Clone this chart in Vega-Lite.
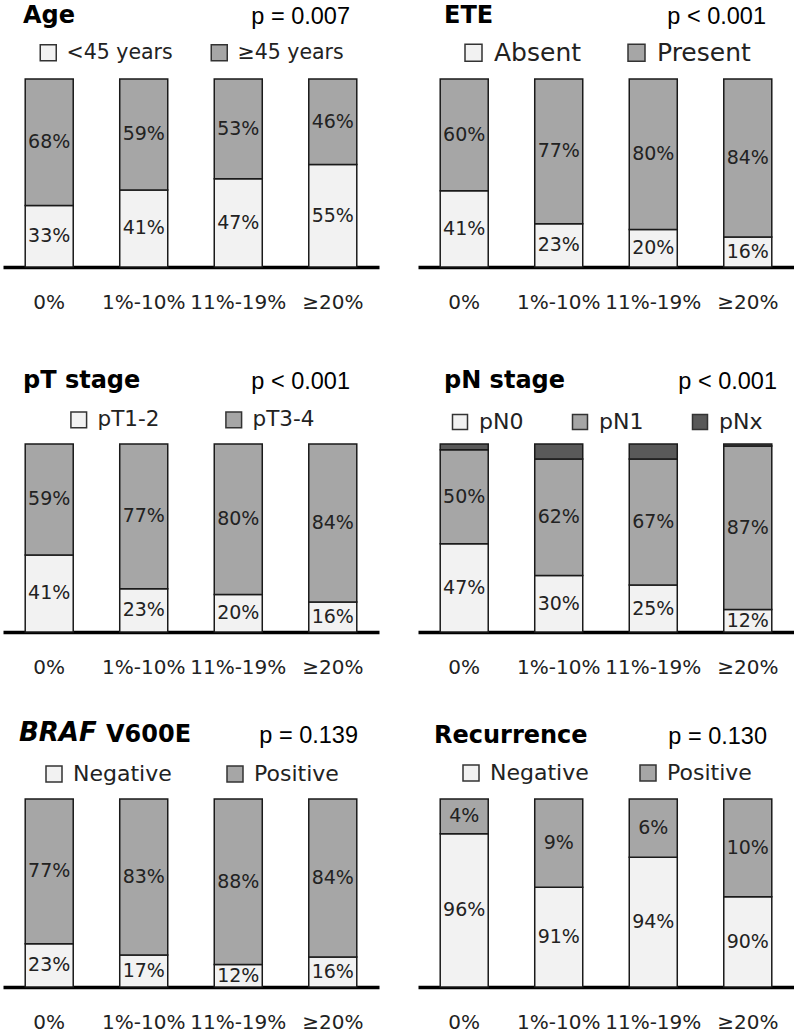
{
  "$schema": "https://vega.github.io/schema/vega-lite/v6.json",
  "padding": {"left": 3, "top": 3, "right": 0, "bottom": 0},
  "config": {
    "view": {"stroke": null},
    "axis": {"domainColor": "#000", "domainWidth": 3.5, "ticks": false, "tickSize": 0, "labelFont": "DejaVu Sans", "labelFontSize": 20, "labelColor": "#222", "labelPadding": 25, "labelAngle": 0, "grid": false},
    "legend": {"layout": {"top": {"anchor": "middle"}}, "symbolType": "square", "symbolStrokeColor": "#333", "symbolStrokeWidth": 1.5, "labelFont": "DejaVu Sans", "labelColor": "#222", "labelOffset": 8, "padding": 0},
    "title": {"font": "DejaVu Sans", "fontWeight": "bold", "fontSize": 24, "color": "#000"},
    "concat": {"spacing": 39}
  },
  "resolve": {"scale": {"x": "independent", "y": "independent", "color": "independent"}, "legend": {"color": "independent"}},
  "vconcat": [
    {
      "resolve": {"scale": {"x": "independent", "y": "independent", "color": "independent"}, "legend": {"color": "independent"}},
      "hconcat": [
        {
          "title": {"text": "Age", "anchor": "start", "dx": 20, "offset": -23},
          "resolve": {"scale": {"x": "independent", "y": "independent", "color": "independent"}, "legend": {"color": "independent"}},
          "vconcat": [{
            "width": 376, "height": 188,
            "title": {"text": "p = 0.007", "anchor": "end", "dx": -29, "offset": 14, "font": "Liberation Sans", "fontWeight": "normal", "fontSize": 23.5},
            "data": {"values": [
              {"group": "0%", "cat": "<45 years", "pct": 0.33}, {"group": "0%", "cat": "≥45 years", "pct": 0.68},
              {"group": "1%-10%", "cat": "<45 years", "pct": 0.41}, {"group": "1%-10%", "cat": "≥45 years", "pct": 0.59},
              {"group": "11%-19%", "cat": "<45 years", "pct": 0.47}, {"group": "11%-19%", "cat": "≥45 years", "pct": 0.53},
              {"group": "≥20%", "cat": "<45 years", "pct": 0.55}, {"group": "≥20%", "cat": "≥45 years", "pct": 0.46}
            ]},
            "transform": [
              {"stack": "pct", "groupby": ["group"], "offset": "normalize", "sort": [{"field": "cat", "order": "ascending"}], "as": ["y0", "y1"]},
              {"calculate": "(datum.y0 + datum.y1) / 2", "as": "mid"}
            ],
            "encoding": {"x": {"field": "group", "type": "nominal", "sort": ["0%", "1%-10%", "11%-19%", "≥20%"], "scale": {"paddingInner": 0.492, "paddingOuter": 0.235}, "axis": {"title": null}}},
            "layer": [
              {"mark": {"type": "bar", "stroke": "#1a1a1a", "strokeWidth": 1.5},
               "encoding": {
                 "y": {"field": "y0", "type": "quantitative", "scale": {"domain": [0, 1]}, "axis": null},
                 "y2": {"field": "y1"},
                 "color": {"field": "cat", "type": "nominal", "scale": {"domain": ["<45 years", "≥45 years"], "range": ["#f2f2f2", "#a6a6a6"]},
                   "legend": {"orient": "top", "direction": "horizontal", "title": null, "symbolSize": 256, "labelFontSize": 20.5, "columnPadding": 35, "offset": 15}}
               }},
              {"mark": {"type": "text", "font": "DejaVu Sans", "fontSize": 19, "color": "#222"},
               "encoding": {"y": {"field": "mid", "type": "quantitative"}, "text": {"field": "pct", "type": "quantitative", "format": ".0%"}}}
            ]
          }]
        },
        {
          "title": {"text": "ETE", "anchor": "start", "dx": 26, "offset": -23},
          "resolve": {"scale": {"x": "independent", "y": "independent", "color": "independent"}, "legend": {"color": "independent"}},
          "vconcat": [{
            "width": 376, "height": 188,
            "title": {"text": "p < 0.001", "anchor": "end", "dx": -28, "offset": 11.4, "font": "Liberation Sans", "fontWeight": "normal", "fontSize": 23.5},
            "data": {"values": [
              {"group": "0%", "cat": "Absent", "pct": 0.41}, {"group": "0%", "cat": "Present", "pct": 0.60},
              {"group": "1%-10%", "cat": "Absent", "pct": 0.23}, {"group": "1%-10%", "cat": "Present", "pct": 0.77},
              {"group": "11%-19%", "cat": "Absent", "pct": 0.20}, {"group": "11%-19%", "cat": "Present", "pct": 0.80},
              {"group": "≥20%", "cat": "Absent", "pct": 0.16}, {"group": "≥20%", "cat": "Present", "pct": 0.84}
            ]},
            "transform": [
              {"stack": "pct", "groupby": ["group"], "offset": "normalize", "sort": [{"field": "cat", "order": "ascending"}], "as": ["y0", "y1"]},
              {"calculate": "(datum.y0 + datum.y1) / 2", "as": "mid"}
            ],
            "encoding": {"x": {"field": "group", "type": "nominal", "sort": ["0%", "1%-10%", "11%-19%", "≥20%"], "scale": {"paddingInner": 0.492, "paddingOuter": 0.235}, "axis": {"title": null}}},
            "layer": [
              {"mark": {"type": "bar", "stroke": "#1a1a1a", "strokeWidth": 1.5},
               "encoding": {
                 "y": {"field": "y0", "type": "quantitative", "scale": {"domain": [0, 1]}, "axis": null},
                 "y2": {"field": "y1"},
                 "color": {"field": "cat", "type": "nominal", "scale": {"domain": ["Absent", "Present"], "range": ["#f2f2f2", "#a6a6a6"]},
                   "legend": {"orient": "top", "direction": "horizontal", "title": null, "symbolSize": 289, "labelFontSize": 25, "columnPadding": 42, "offset": 12.8}}
               }},
              {"mark": {"type": "text", "font": "DejaVu Sans", "fontSize": 19, "color": "#222"},
               "encoding": {"y": {"field": "mid", "type": "quantitative"}, "text": {"field": "pct", "type": "quantitative", "format": ".0%"}}}
            ]
          }]
        }
      ]
    },
    {
      "spacing": 42,
      "resolve": {"scale": {"x": "independent", "y": "independent", "color": "independent"}, "legend": {"color": "independent"}},
      "vconcat": [
        {
          "resolve": {"scale": {"x": "independent", "y": "independent", "color": "independent"}, "legend": {"color": "independent"}},
          "hconcat": [
            {
              "title": {"text": "pT stage", "anchor": "start", "dx": 20, "offset": -23},
              "resolve": {"scale": {"x": "independent", "y": "independent", "color": "independent"}, "legend": {"color": "independent"}},
              "vconcat": [{
                "width": 376, "height": 188,
                "title": {"text": "p < 0.001", "anchor": "end", "dx": -29, "offset": 15.4, "font": "Liberation Sans", "fontWeight": "normal", "fontSize": 23.5},
                "data": {"values": [
                  {"group": "0%", "cat": "pT1-2", "pct": 0.41}, {"group": "0%", "cat": "pT3-4", "pct": 0.59},
                  {"group": "1%-10%", "cat": "pT1-2", "pct": 0.23}, {"group": "1%-10%", "cat": "pT3-4", "pct": 0.77},
                  {"group": "11%-19%", "cat": "pT1-2", "pct": 0.20}, {"group": "11%-19%", "cat": "pT3-4", "pct": 0.80},
                  {"group": "≥20%", "cat": "pT1-2", "pct": 0.16}, {"group": "≥20%", "cat": "pT3-4", "pct": 0.84}
                ]},
                "transform": [
                  {"stack": "pct", "groupby": ["group"], "offset": "normalize", "sort": [{"field": "cat", "order": "ascending"}], "as": ["y0", "y1"]},
                  {"calculate": "(datum.y0 + datum.y1) / 2", "as": "mid"}
                ],
                "encoding": {"x": {"field": "group", "type": "nominal", "sort": ["0%", "1%-10%", "11%-19%", "≥20%"], "scale": {"paddingInner": 0.492, "paddingOuter": 0.235}, "axis": {"title": null}}},
                "layer": [
                  {"mark": {"type": "bar", "stroke": "#1a1a1a", "strokeWidth": 1.5},
                   "encoding": {
                     "y": {"field": "y0", "type": "quantitative", "scale": {"domain": [0, 1]}, "axis": null},
                     "y2": {"field": "y1"},
                     "color": {"field": "cat", "type": "nominal", "scale": {"domain": ["pT1-2", "pT3-4"], "range": ["#f2f2f2", "#a6a6a6"]},
                       "legend": {"orient": "top", "direction": "horizontal", "title": null, "symbolSize": 246, "labelFontSize": 21.5, "columnPadding": 62, "offset": 13.1}}
                   }},
                  {"mark": {"type": "text", "font": "DejaVu Sans", "fontSize": 19, "color": "#222"},
                   "encoding": {"y": {"field": "mid", "type": "quantitative"}, "text": {"field": "pct", "type": "quantitative", "format": ".0%"}}}
                ]
              }]
            },
            {
              "title": {"text": "pN stage", "anchor": "start", "dx": 26, "offset": -23},
              "resolve": {"scale": {"x": "independent", "y": "independent", "color": "independent"}, "legend": {"color": "independent"}},
              "vconcat": [{
                "width": 376, "height": 188,
                "title": {"text": "p < 0.001", "anchor": "end", "dx": -17, "offset": 17.7, "font": "Liberation Sans", "fontWeight": "normal", "fontSize": 23.5},
                "data": {"values": [
                  {"group": "0%", "cat": "pN0", "pct": 0.47}, {"group": "0%", "cat": "pN1", "pct": 0.50}, {"group": "0%", "cat": "pNx", "pct": 0.03},
                  {"group": "1%-10%", "cat": "pN0", "pct": 0.30}, {"group": "1%-10%", "cat": "pN1", "pct": 0.62}, {"group": "1%-10%", "cat": "pNx", "pct": 0.08},
                  {"group": "11%-19%", "cat": "pN0", "pct": 0.25}, {"group": "11%-19%", "cat": "pN1", "pct": 0.67}, {"group": "11%-19%", "cat": "pNx", "pct": 0.08},
                  {"group": "≥20%", "cat": "pN0", "pct": 0.12}, {"group": "≥20%", "cat": "pN1", "pct": 0.87}, {"group": "≥20%", "cat": "pNx", "pct": 0.01}
                ]},
                "transform": [
                  {"stack": "pct", "groupby": ["group"], "offset": "normalize", "sort": [{"field": "cat", "order": "ascending"}], "as": ["y0", "y1"]},
                  {"calculate": "(datum.y0 + datum.y1) / 2", "as": "mid"}
                ],
                "encoding": {"x": {"field": "group", "type": "nominal", "sort": ["0%", "1%-10%", "11%-19%", "≥20%"], "scale": {"paddingInner": 0.492, "paddingOuter": 0.235}, "axis": {"title": null}}},
                "layer": [
                  {"mark": {"type": "bar", "stroke": "#1a1a1a", "strokeWidth": 1.5},
                   "encoding": {
                     "y": {"field": "y0", "type": "quantitative", "scale": {"domain": [0, 1]}, "axis": null},
                     "y2": {"field": "y1"},
                     "color": {"field": "cat", "type": "nominal", "scale": {"domain": ["pN0", "pN1", "pNx"], "range": ["#f2f2f2", "#a6a6a6", "#595959"]},
                       "legend": {"orient": "top", "direction": "horizontal", "title": null, "symbolSize": 225, "labelFontSize": 22, "columnPadding": 45, "offset": 10.8}}
                   }},
                  {"transform": [{"filter": "datum.cat !== 'pNx'"}],
                   "mark": {"type": "text", "font": "DejaVu Sans", "fontSize": 19, "color": "#222"},
                   "encoding": {"y": {"field": "mid", "type": "quantitative"}, "text": {"field": "pct", "type": "quantitative", "format": ".0%"}}}
                ]
              }]
            }
          ]
        },
        {
          "resolve": {"scale": {"x": "independent", "y": "independent", "color": "independent"}, "legend": {"color": "independent"}},
          "hconcat": [
            {
              "title": {"text": "BRAF", "anchor": "start", "dx": 16, "offset": -23, "fontStyle": "italic", "fontSize": 26},
              "resolve": {"scale": {"x": "independent", "y": "independent", "color": "independent"}, "legend": {"color": "independent"}},
              "vconcat": [{
                "title": {"text": "V600E", "anchor": "start", "dx": 103, "offset": -23},
                "resolve": {"scale": {"x": "independent", "y": "independent", "color": "independent"}, "legend": {"color": "independent"}},
                "vconcat": [{
                  "width": 376, "height": 188,
                  "title": {"text": "p = 0.139", "anchor": "end", "dx": -21, "offset": 15.6, "font": "Liberation Sans", "fontWeight": "normal", "fontSize": 23.5},
                  "data": {"values": [
                    {"group": "0%", "cat": "Negative", "pct": 0.23}, {"group": "0%", "cat": "Positive", "pct": 0.77},
                    {"group": "1%-10%", "cat": "Negative", "pct": 0.17}, {"group": "1%-10%", "cat": "Positive", "pct": 0.83},
                    {"group": "11%-19%", "cat": "Negative", "pct": 0.12}, {"group": "11%-19%", "cat": "Positive", "pct": 0.88},
                    {"group": "≥20%", "cat": "Negative", "pct": 0.16}, {"group": "≥20%", "cat": "Positive", "pct": 0.84}
                  ]},
                  "transform": [
                    {"stack": "pct", "groupby": ["group"], "offset": "normalize", "sort": [{"field": "cat", "order": "ascending"}], "as": ["y0", "y1"]},
                    {"calculate": "(datum.y0 + datum.y1) / 2", "as": "mid"}
                  ],
                  "encoding": {"x": {"field": "group", "type": "nominal", "sort": ["0%", "1%-10%", "11%-19%", "≥20%"], "scale": {"paddingInner": 0.492, "paddingOuter": 0.235}, "axis": {"title": null}}},
                  "layer": [
                    {"mark": {"type": "bar", "stroke": "#1a1a1a", "strokeWidth": 1.5},
                     "encoding": {
                       "y": {"field": "y0", "type": "quantitative", "scale": {"domain": [0, 1]}, "axis": null},
                       "y2": {"field": "y1"},
                       "color": {"field": "cat", "type": "nominal", "scale": {"domain": ["Negative", "Positive"], "range": ["#f2f2f2", "#a6a6a6"]},
                         "legend": {"orient": "top", "direction": "horizontal", "title": null, "symbolSize": 256, "labelFontSize": 22, "columnPadding": 52, "offset": 14.2}}
                     }},
                    {"mark": {"type": "text", "font": "DejaVu Sans", "fontSize": 19, "color": "#222"},
                     "encoding": {"y": {"field": "mid", "type": "quantitative"}, "text": {"field": "pct", "type": "quantitative", "format": ".0%"}}}
                  ]
                }]
              }]
            },
            {
              "title": {"text": "Recurrence", "anchor": "start", "dx": 16, "offset": -23},
              "resolve": {"scale": {"x": "independent", "y": "independent", "color": "independent"}, "legend": {"color": "independent"}},
              "vconcat": [{
                "width": 376, "height": 188,
                "title": {"text": "p = 0.130", "anchor": "end", "dx": -27, "offset": 13.7, "font": "Liberation Sans", "fontWeight": "normal", "fontSize": 23.5},
                "data": {"values": [
                  {"group": "0%", "cat": "Negative", "pct": 0.963}, {"group": "0%", "cat": "Positive", "pct": 0.037},
                  {"group": "1%-10%", "cat": "Negative", "pct": 0.906}, {"group": "1%-10%", "cat": "Positive", "pct": 0.094},
                  {"group": "11%-19%", "cat": "Negative", "pct": 0.938}, {"group": "11%-19%", "cat": "Positive", "pct": 0.062},
                  {"group": "≥20%", "cat": "Negative", "pct": 0.896}, {"group": "≥20%", "cat": "Positive", "pct": 0.104}
                ]},
                "transform": [
                  {"stack": "pct", "groupby": ["group"], "offset": "normalize", "sort": [{"field": "cat", "order": "ascending"}], "as": ["y0", "y1"]},
                  {"calculate": "(max(datum.y0, 0.8) + datum.y1) / 2", "as": "mid"}
                ],
                "encoding": {"x": {"field": "group", "type": "nominal", "sort": ["0%", "1%-10%", "11%-19%", "≥20%"], "scale": {"paddingInner": 0.492, "paddingOuter": 0.235}, "axis": {"title": null}}},
                "layer": [
                  {"mark": {"type": "bar", "stroke": "#1a1a1a", "strokeWidth": 1.5},
                   "encoding": {
                     "y": {"field": "y0", "type": "quantitative", "scale": {"domain": [0.8, 1], "clamp": true}, "axis": null},
                     "y2": {"field": "y1"},
                     "color": {"field": "cat", "type": "nominal", "scale": {"domain": ["Negative", "Positive"], "range": ["#f2f2f2", "#a6a6a6"]},
                       "legend": {"orient": "top", "direction": "horizontal", "title": null, "symbolSize": 256, "labelFontSize": 22, "columnPadding": 48, "offset": 15.1}}
                   }},
                  {"mark": {"type": "text", "font": "DejaVu Sans", "fontSize": 19, "color": "#222"},
                   "encoding": {"y": {"field": "mid", "type": "quantitative"}, "text": {"field": "pct", "type": "quantitative", "format": ".0%"}}}
                ]
              }]
            }
          ]
        }
      ]
    }
  ],
  "spacing": 56
}
